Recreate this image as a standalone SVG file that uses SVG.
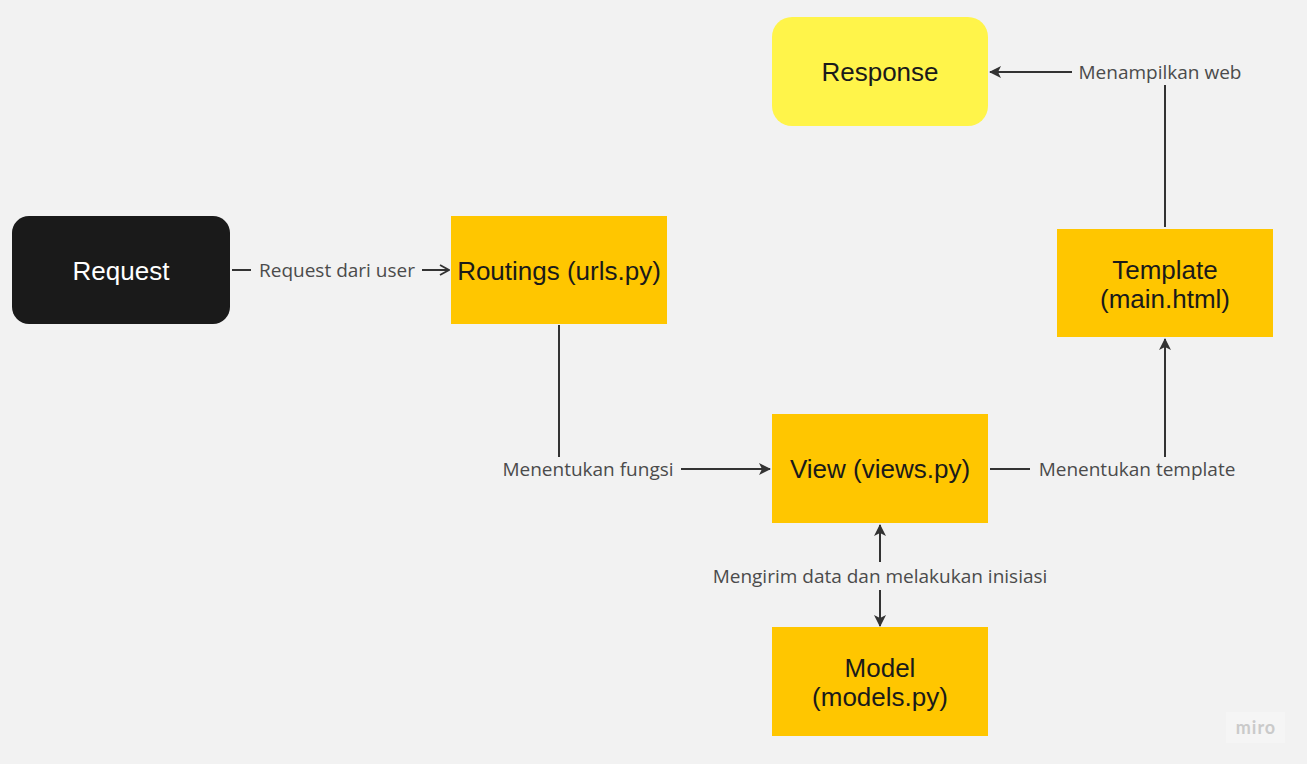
<svg xmlns="http://www.w3.org/2000/svg" width="1307" height="764" viewBox="0 0 1307 764">
<defs>
<style>
.node text{font-family:"Liberation Sans",Arial,sans-serif;font-size:26px;text-anchor:middle;fill:#1a1a1a}
.lbl{font-family:"Open Sans","Noto Sans",sans-serif;font-size:19px;fill:#4b4b4b;text-anchor:middle}
.c{stroke:#333;stroke-width:2;fill:none}
.y{fill:#ffc600}
</style>
<marker id="ah" viewBox="0 0 12 12" refX="11" refY="6" markerWidth="12" markerHeight="12" markerUnits="userSpaceOnUse" orient="auto">
<path d="M0,0 L12,6 L0,12 L3,6 Z" fill="#333"/>
</marker>
<marker id="oa" viewBox="0 0 12 12" refX="11" refY="6" markerWidth="12" markerHeight="12" markerUnits="userSpaceOnUse" orient="auto">
<path d="M2,1 L11,6 L2,11" fill="none" stroke="#333" stroke-width="1.8"/>
</marker>
</defs>
<rect width="1307" height="764" fill="#f2f2f2"/>
<g id="connectors">
<path class="c" d="M232,270 H251"/>
<path class="c" d="M422,270 H449" marker-end="url(#oa)"/>
<text class="lbl" x="337" y="277">Request dari user</text>
<path class="c" d="M559,325 V457"/>
<path class="c" d="M681,469 H770" marker-end="url(#ah)"/>
<text class="lbl" x="588" y="476">Menentukan fungsi</text>
<path class="c" d="M990,469 H1030"/>
<path class="c" d="M1165,457 V339" marker-end="url(#ah)"/>
<text class="lbl" x="1137" y="476">Menentukan template</text>
<path class="c" d="M1165,227 V85"/>
<path class="c" d="M1072,72 H990" marker-end="url(#ah)"/>
<text class="lbl" x="1160" y="79">Menampilkan web</text>
<path class="c" d="M880,562 V525" marker-end="url(#ah)"/>
<path class="c" d="M880,590 V626" marker-end="url(#ah)"/>
<text class="lbl" x="880" y="583">Mengirim data dan melakukan inisiasi</text>
</g>
<g id="request" class="node">
<rect x="12" y="216" width="218" height="108" rx="17" fill="#1a1a1a"/>
<text x="121" y="280" style="fill:#fff">Request</text>
</g>
<g id="routings" class="node">
<rect class="y" x="451" y="216" width="216" height="108"/>
<text x="559" y="280">Routings (urls.py)</text>
</g>
<g id="response" class="node">
<rect x="772" y="17" width="216" height="109" rx="20" fill="#fff44a"/>
<text x="880" y="81">Response</text>
</g>
<g id="template" class="node">
<rect class="y" x="1057" y="229" width="216" height="108"/>
<text x="1165" y="279">Template</text>
<text x="1165" y="308">(main.html)</text>
</g>
<g id="view" class="node">
<rect class="y" x="772" y="414" width="216" height="109"/>
<text x="880" y="478">View (views.py)</text>
</g>
<g id="model" class="node">
<rect class="y" x="772" y="627" width="216" height="109"/>
<text x="880" y="677">Model</text>
<text x="880" y="706">(models.py)</text>
</g>
<g id="watermark">
<rect x="1226" y="712" width="59" height="31" fill="#f5f5f5"/>
<text x="1256" y="734" font-family="Lato,'Open Sans',sans-serif" font-size="18" font-weight="bold" fill="#cacaca" text-anchor="middle" letter-spacing="1">miro</text>
</g>
</svg>
